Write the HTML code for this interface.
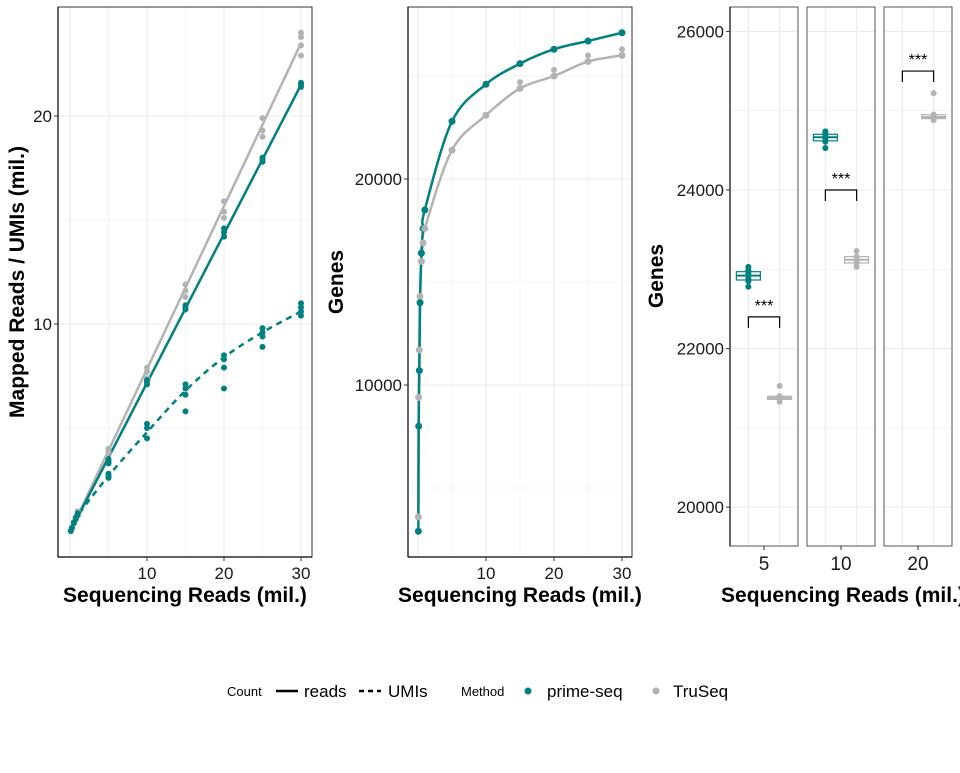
<!DOCTYPE html>
<html><head><meta charset="utf-8">
<style>
html,body{margin:0;padding:0;background:#fff;}
svg text{font-family:"Liberation Sans",sans-serif;}
</style></head>
<body>
<svg id="chart" width="960" height="768" viewBox="0 0 960 768" xmlns="http://www.w3.org/2000/svg">
  <rect x="0" y="0" width="960" height="768" fill="#fff"/>
  <g id="p1"></g>
  <g id="p2"></g>
  <g id="p3"></g>
  <g id="legend">
    <text x="227" y="696" font-size="13">Count</text>
    <line x1="276" y1="691" x2="298" y2="691" stroke="#000" stroke-width="2.5"/>
    <text x="304" y="697" font-size="17">reads</text>
    <line x1="359" y1="691" x2="381" y2="691" stroke="#000" stroke-width="2.5" stroke-dasharray="5,4"/>
    <text x="388" y="697" font-size="17">UMIs</text>
    <text x="461" y="696" font-size="13">Method</text>
    <circle cx="528" cy="691" r="3.5" fill="#008080"/>
    <text x="547" y="697" font-size="17">prime-seq</text>
    <circle cx="656" cy="691" r="3.5" fill="#b3b3b3"/>
    <text x="673" y="697" font-size="17">TruSeq</text>
  </g>
</svg>
<script>
// ---------- Panel 1 data (millions) ----------
const p1X = [0.1, 0.25, 0.5, 0.75, 1, 5, 10, 15, 20, 25, 30];
const p1ReadsPrime = [0.05, 0.2, 0.45, 0.68, 0.9, 3.4, 7.2, 10.8, 14.4, 17.9, 21.5];
const p1ReadsTru = [0.05, 0.22, 0.48, 0.74, 1.0, 3.9, 7.6, 11.6, 15.5, 19.6, 23.5];
const p1UmiPrime = [0.05, 0.2, 0.42, 0.62, 0.8, 2.7, 4.8, 6.8, 8.4, 9.6, 10.6];
const p1RepX = [5, 10, 15, 20, 25, 30];
const p1RepReadsTru = [[3.8,4.0,3.9],[7.4,7.7,7.9],[11.3,11.6,11.9],[15.1,15.4,15.9],[19.0,19.3,19.9],[22.9,23.4,23.8,24.0]];
const p1RepReadsPrime = [[3.3,3.4,3.5],[7.1,7.2,7.3],[10.7,10.8,10.9],[14.2,14.4,14.6],[17.8,17.9,18.0],[21.4,21.5,21.6]];
const p1RepUmi = [[2.6,2.7,2.8],[4.5,5.0,5.2],[5.8,6.6,6.9,7.1],[6.9,7.9,8.3,8.5],[8.9,9.4,9.6,9.8],[10.4,10.6,10.8,11.0]];
const p1XTicks = [10, 20, 30];
const p1YTicks = [10, 20];
const p1YMinor = [5, 15];

// ---------- Panel 2 data ----------
const p2X = [0.05, 0.1, 0.2, 0.3, 0.5, 0.75, 1, 5, 10, 15, 20, 25, 30];
const p2Prime = [2900, 8000, 10700, 14000, 16400, 17600, 18500, 22800, 24600, 25600, 26300, 26700, 27100];
const p2Tru = [3600, 9400, 11700, 14300, 16000, 16900, 17600, 21400, 23100, 24400, 25000, 25700, 26000];
const p2TruOutlier = [[15, 24700], [20, 25300], [25, 26000], [30, 26300]];
const p2XTicks = [10, 20, 30];
const p2YTicks = [10000, 20000];
const p2YMinor = [5000, 15000, 25000];

// ---------- Panel 3 data ----------
const p3Facets = ["5", "10", "20"];
const p3Prime = [[22780,22850,22880,22920,22950,22990,23030], [24530,24610,24650,24680,24710,24740], []];
const p3Tru = [[21330,21360,21380,21400,21530], [23030,23080,23120,23160,23230], [24880,24900,24920,24950,25220]];
const p3Bracket = [22400, 24000, 25500];
const p3YTicks = [20000, 22000, 24000, 26000];
const p3YMinor = [21000, 23000, 25000];

const NS = "http://www.w3.org/2000/svg";
const TEAL = "#008080", GRAY = "#b3b3b3";
function mk(parent, tag, attrs, text) {
  const e = document.createElementNS(NS, tag);
  for (const k in attrs) e.setAttribute(k, attrs[k]);
  if (text !== undefined) e.textContent = text;
  parent.appendChild(e);
  return e;
}
function smoothPath(pts) {
  let d = "M" + pts[0][0] + "," + pts[0][1];
  for (let i = 1; i < pts.length; i++) {
    const p0 = pts[Math.max(0, i - 2)], p1 = pts[i - 1], p2 = pts[i], p3 = pts[Math.min(pts.length - 1, i + 1)];
    const c1x = p1[0] + (p2[0] - p0[0]) / 6, c1y = p1[1] + (p2[1] - p0[1]) / 6;
    const c2x = p2[0] - (p3[0] - p1[0]) / 6, c2y = p2[1] - (p3[1] - p1[1]) / 6;
    d += " C" + c1x + "," + c1y + " " + c2x + "," + c2y + " " + p2[0] + "," + p2[1];
  }
  return d;
}

// ===== Panel 1 =====
(function () {
  const g = document.getElementById("p1");
  const L = 58, R = 312, T = 7, B = 557;
  const sx = v => 70 + 7.7 * v;
  const sy = v => 532 - 20.8 * v;
  p1YMinor.forEach(v => { const l = mk(g, "line", {x1: L, x2: R, y1: sy(v), y2: sy(v), stroke: "#f2f2f2", "stroke-width": 0.8});
      });
  [5, 15, 25].forEach(v => { mk(g, "line", {x1: sx(v), x2: sx(v), y1: T, y2: B, stroke: "#f2f2f2", "stroke-width": 0.8}); });
  p1YTicks.forEach(v => { const l = mk(g, "line", {x1: L, x2: R, y1: sy(v), y2: sy(v), stroke: "#ebebeb", "stroke-width": 1.1});
      });
  [0].concat(p1XTicks).forEach(v => { mk(g, "line", {x1: sx(v), x2: sx(v), y1: T, y2: B, stroke: "#ebebeb", "stroke-width": 1.1}); });
  const lr = mk(g, "line", {x1: sx(0), y1: sy(0), x2: sx(30), y2: sy(p1ReadsTru[p1ReadsTru.length - 1]), stroke: GRAY, "stroke-width": 2.5});
   
  const lp = mk(g, "line", {x1: sx(0), y1: sy(0), x2: sx(30), y2: sy(p1ReadsPrime[p1ReadsPrime.length - 1]), stroke: TEAL, "stroke-width": 2.5});
   
  const um = mk(g, "path", {d: smoothPath(p1X.map((x, i) => [sx(x), sy(p1UmiPrime[i])])), fill: "none", stroke: TEAL, "stroke-width": 2.5, "stroke-dasharray": "6,5"});
   
  p1X.slice(0, 5).forEach((x, i) => {
    [[p1ReadsTru[i], GRAY], [p1ReadsPrime[i], TEAL], [p1UmiPrime[i], TEAL]].forEach(([v, c]) => {
      const p = mk(g, "circle", {cx: sx(x), cy: sy(v), r: 3, fill: c});
       
    });
  });
  p1RepX.forEach((x, i) => {
    [[p1RepReadsTru[i], GRAY], [p1RepReadsPrime[i], TEAL], [p1RepUmi[i], TEAL]].forEach(([arr, c]) => {
      arr.forEach(v => { const p = mk(g, "circle", {cx: sx(x), cy: sy(v), r: 3, fill: c});
          });
    });
  });
  mk(g, "rect", {x: L, y: T, width: R - L, height: B - T, fill: "none", stroke: "#333", "stroke-width": 1});
  mk(g, "line", {x1: L, y1: T, x2: L, y2: B, stroke: "#000", "stroke-width": 1.2});
  mk(g, "line", {x1: L, y1: B, x2: R, y2: B, stroke: "#000", "stroke-width": 1.2});
  p1XTicks.forEach(v => {
    mk(g, "line", {x1: sx(v), x2: sx(v), y1: B, y2: B + 4, stroke: "#333"});
    const t = mk(g, "text", {x: sx(v), y: B + 22, "font-size": 17, "text-anchor": "middle", fill: "#1a1a1a"}, v);
     
  });
  p1YTicks.forEach(v => {
    mk(g, "line", {x1: L - 4, x2: L, y1: sy(v), y2: sy(v), stroke: "#333"});
    const t = mk(g, "text", {x: L - 6, y: sy(v) + 6, "font-size": 17, "text-anchor": "end", fill: "#1a1a1a"}, v);
     
  });
  const xt = mk(g, "text", {x: 185, y: 602, "font-size": 21, "font-weight": "bold", "text-anchor": "middle"}, "Sequencing Reads (mil.)");
   
  const yt = mk(g, "text", {x: 0, y: 0, "font-size": 21, "font-weight": "bold", "text-anchor": "middle", transform: "translate(24,282) rotate(-90)"}, "Mapped Reads / UMIs (mil.)");
   
})();

// ===== Panel 2 =====
(function () {
  const g = document.getElementById("p2");
  const L = 408, R = 632, T = 7, B = 557;
  const sx = v => 418 + 6.8 * v;
  const sy = v => 591 - 0.0206 * v;
  p2YMinor.forEach(v => { mk(g, "line", {x1: L, x2: R, y1: sy(v), y2: sy(v), stroke: "#f2f2f2", "stroke-width": 0.8}); });
  [5, 15, 25].forEach(v => { mk(g, "line", {x1: sx(v), x2: sx(v), y1: T, y2: B, stroke: "#f2f2f2", "stroke-width": 0.8}); });
  p2YTicks.forEach(v => { mk(g, "line", {x1: L, x2: R, y1: sy(v), y2: sy(v), stroke: "#ebebeb", "stroke-width": 1.1}); });
  [0].concat(p2XTicks).forEach(v => { mk(g, "line", {x1: sx(v), x2: sx(v), y1: T, y2: B, stroke: "#ebebeb", "stroke-width": 1.1}); });
  const lt = mk(g, "path", {d: smoothPath(p2X.map((x, i) => [sx(x), sy(p2Tru[i])])), fill: "none", stroke: GRAY, "stroke-width": 2.5});
   
  const lp = mk(g, "path", {d: smoothPath(p2X.map((x, i) => [sx(x), sy(p2Prime[i])])), fill: "none", stroke: TEAL, "stroke-width": 2.5});
   
  p2X.forEach((x, i) => {
    [[p2Tru[i], GRAY], [p2Prime[i], TEAL]].forEach(([v, c]) => {
      const p = mk(g, "circle", {cx: sx(x), cy: sy(v), r: 3.5, fill: c});
       
    });
  });
  p2TruOutlier.forEach(([x, v]) => { const p = mk(g, "circle", {cx: sx(x), cy: sy(v), r: 3, fill: GRAY});
      });
  mk(g, "rect", {x: L, y: T, width: R - L, height: B - T, fill: "none", stroke: "#333", "stroke-width": 1});
  mk(g, "line", {x1: L, y1: T, x2: L, y2: B, stroke: "#000", "stroke-width": 1.2});
  mk(g, "line", {x1: L, y1: B, x2: R, y2: B, stroke: "#000", "stroke-width": 1.2});
  p2XTicks.forEach(v => {
    mk(g, "line", {x1: sx(v), x2: sx(v), y1: B, y2: B + 4, stroke: "#333"});
    const t = mk(g, "text", {x: sx(v), y: B + 22, "font-size": 17, "text-anchor": "middle", fill: "#1a1a1a"}, v);
     
  });
  p2YTicks.forEach(v => {
    mk(g, "line", {x1: L - 4, x2: L, y1: sy(v), y2: sy(v), stroke: "#333"});
    const t = mk(g, "text", {x: L - 6, y: sy(v) + 6, "font-size": 17, "text-anchor": "end", fill: "#1a1a1a"}, v);
     
  });
  const xt = mk(g, "text", {x: 520, y: 602, "font-size": 21, "font-weight": "bold", "text-anchor": "middle"}, "Sequencing Reads (mil.)");
   
  const yt = mk(g, "text", {x: 0, y: 0, "font-size": 21, "font-weight": "bold", "text-anchor": "middle", transform: "translate(343,282) rotate(-90)"}, "Genes");
   
})();

// ===== Panel 3 =====
(function () {
  const g = document.getElementById("p3");
  const T = 7, B = 546;
  const facetL = [730, 807, 884], FW = 68;
  const sy = v => 190 - 0.0793 * (v - 24000);
  function q(arr, p) { const s = arr.slice().sort((a, b) => a - b); const i = (s.length - 1) * p; const lo = Math.floor(i), hi = Math.ceil(i); return s[lo] + (s[hi] - s[lo]) * (i - lo); }
  p3Facets.forEach((lab, f) => {
    const L = facetL[f], R = L + FW;
    const cx1 = L + FW * 0.27, cx2 = L + FW * 0.73;
    const fg = mk(g, "g", {});
     
    p3YMinor.forEach(v => mk(fg, "line", {x1: L, x2: R, y1: sy(v), y2: sy(v), stroke: "#f2f2f2", "stroke-width": 0.8}));
    p3YTicks.forEach(v => mk(fg, "line", {x1: L, x2: R, y1: sy(v), y2: sy(v), stroke: "#ebebeb", "stroke-width": 1.1}));
    [cx1, cx2].forEach(x => mk(fg, "line", {x1: x, x2: x, y1: T, y2: B, stroke: "#ebebeb", "stroke-width": 1.1}));
    [[p3Prime[f], TEAL, cx1], [p3Tru[f], GRAY, cx2]].forEach(([arr, c, cx]) => {
      if (!arr.length) return;
      const q1 = q(arr, 0.25), md = q(arr, 0.5), q3 = q(arr, 0.75);
      const iqr = q3 - q1;
      const inl = arr.filter(v => v >= q1 - 1.5 * iqr && v <= q3 + 1.5 * iqr);
      const wl = Math.min(...inl), wh = Math.max(...inl);
      const bx = mk(fg, "g", {});
       
      mk(bx, "line", {x1: cx, x2: cx, y1: sy(wl), y2: sy(q1), stroke: c, "stroke-width": 1.2});
      mk(bx, "line", {x1: cx, x2: cx, y1: sy(wh), y2: sy(q3), stroke: c, "stroke-width": 1.2});
      mk(bx, "rect", {x: cx - 12, y: sy(q3), width: 24, height: Math.max(2, sy(q1) - sy(q3)), fill: "#fff", "fill-opacity": 0.6, stroke: c, "stroke-width": 1.2});
      mk(bx, "line", {x1: cx - 12, x2: cx + 12, y1: sy(md), y2: sy(md), stroke: c, "stroke-width": 2});
      arr.forEach(v => { const p = mk(bx, "circle", {cx: cx, cy: sy(v), r: 3, fill: c});
          });
    });
    const by = sy(p3Bracket[f]);
    const br = mk(fg, "path", {d: `M${cx1},${by + 11} V${by} H${cx2} V${by + 11}`, fill: "none", stroke: "#000", "stroke-width": 1.2});
     
    const st = mk(fg, "text", {x: (cx1 + cx2) / 2, y: by - 6, "font-size": 16, "text-anchor": "middle"}, "***");
     
    mk(fg, "rect", {x: L, y: T, width: FW, height: B - T, fill: "none", stroke: "#555", "stroke-width": 1});
    mk(fg, "line", {x1: (L + R) / 2, x2: (L + R) / 2, y1: B, y2: B + 4, stroke: "#333"});
    const t = mk(fg, "text", {x: (L + R) / 2, y: B + 24, "font-size": 19, "text-anchor": "middle", fill: "#1a1a1a"}, lab);
     
  });
  mk(g, "line", {x1: 730, y1: T, x2: 730, y2: B, stroke: "#000", "stroke-width": 1.2});
  p3YTicks.forEach(v => {
    mk(g, "line", {x1: 726, x2: 730, y1: sy(v), y2: sy(v), stroke: "#333"});
    const t = mk(g, "text", {x: 724, y: sy(v) + 6, "font-size": 17, "text-anchor": "end", fill: "#1a1a1a"}, v);
     
  });
  const xt = mk(g, "text", {x: 843, y: 602, "font-size": 21, "font-weight": "bold", "text-anchor": "middle"}, "Sequencing Reads (mil.)");
   
  const yt = mk(g, "text", {x: 0, y: 0, "font-size": 21, "font-weight": "bold", "text-anchor": "middle", transform: "translate(663,276) rotate(-90)"}, "Genes");
   
})();
</script>
</body></html>
